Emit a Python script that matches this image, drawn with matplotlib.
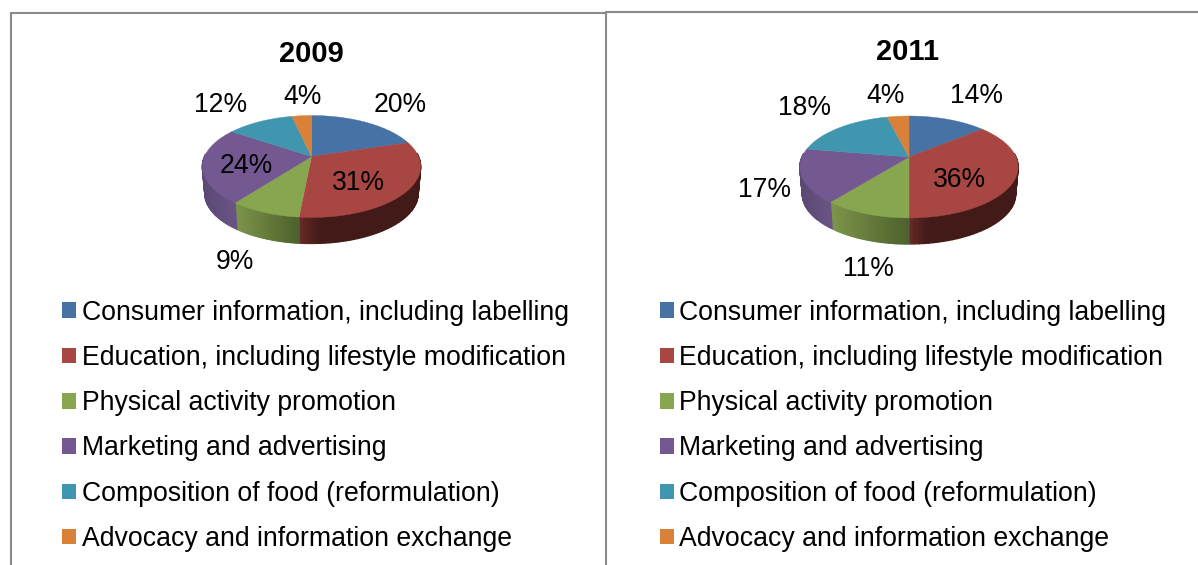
import numpy as np
import matplotlib
matplotlib.use("Agg")
import matplotlib.pyplot as plt
from matplotlib.patches import Patch

plt.rcParams['font.family'] = ['Liberation Sans', 'DejaVu Sans']

categories = ["Consumer information, including labelling",
              "Education, including lifestyle modification",
              "Physical activity promotion",
              "Marketing and advertising",
              "Composition of food (reformulation)",
              "Advocacy and information exchange"]
titles = ["2009", "2011"]
values_2009 = [20.2, 31.3, 8.8, 24.2, 12.0, 3.5]
values_2011 = [14.0, 36.0, 10.7, 17.0, 18.4, 3.9]
top_colors = ["#4672A6", "#A84643", "#88A54F", "#735891", "#4096AE", "#DA8139"]
side_left = [(60, 90, 130), (110, 44, 42), (125, 150, 75), (90, 72, 115), (50, 120, 140), (170, 100, 45)]
side_right = [(45, 70, 105), (66, 27, 24), (78, 98, 45), (105, 84, 132), (40, 100, 120), (140, 85, 40)]
side_rate = [1, 5, 1, 1, 1, 1]

# label text positions in pixels, one list per pie, in category order
label_xy_2009 = [(400, 105), (358, 183), (235, 262), (246, 166), (221, 105), (303, 97)]
label_xy_2011 = [(976, 96), (960, 180), (868, 269), (765, 190), (805, 108), (886, 96)]

W, H = 1198, 565
fig = plt.figure(figsize=(W / 100, H / 100), dpi=100)
ax = fig.add_axes([0, 0, 1, 1])
ax.set_xlim(0, W)
ax.set_ylim(H, 0)
ax.axis("off")

R, HH, K = 107.0, 49.0, 0.196
SCALE, DROP = 0.977, 27.4


def ring(theta, cx, cy, lower=False):
    u, v = np.cos(theta), np.sin(theta)
    d = 1 + K * v
    x, y = R * u / d, -HH * v / d
    if lower:
        x, y = x * SCALE, y * SCALE + DROP
    return cx + x, cy + y


def draw_pie(values, cx, cy):
    fr = np.cumsum([0] + list(values)) / float(sum(values))
    angles = np.pi / 2 - 2 * np.pi * fr
    # side wall
    for i in range(len(values)):
        th = np.linspace(angles[i], angles[i + 1], 60)
        keep = np.sin(th) < 0.08
        th = th[keep]
        if len(th) < 2:
            continue
        c0, c1 = np.array(side_left[i]) / 255, np.array(side_right[i]) / 255
        xs = ring(th, cx, cy)[0]
        for j in range(len(th) - 2, -1, -1):
            x0, y0 = ring(th[j:j + 2], cx, cy)
            x1, y1 = ring(th[j:j + 2], cx, cy, lower=True)
            span = max(xs.max() - xs.min(), 1)
            t = min(1.0, (xs[j] - xs.min()) / span * side_rate[i])
            col = c0 + (c1 - c0) * t
            ax.fill(np.r_[x0, x1[::-1]], np.r_[y0, y1[::-1]], color=col, lw=1.0, zorder=2)
    # top surface
    for i, col in enumerate(top_colors):
        th = np.linspace(angles[i], angles[i + 1], 120)
        x, y = ring(th, cx, cy)
        ax.fill(np.r_[cx, x], np.r_[cy, y], color=col, lw=0.3, zorder=3)


draw_pie(values_2009, 311.5, 156.5)
draw_pie(values_2011, 909, 157)

for values, positions in ((values_2009, label_xy_2009), (values_2011, label_xy_2011)):
    for xy, val in zip(positions, values):
        ax.text(xy[0], xy[1], f"{val:.0f}%", ha="center", va="center", fontsize=19.1, color="black", zorder=5)

ax.text(311, 54, titles[0], ha="center", va="center", fontsize=21, fontweight="bold")
ax.text(907.5, 52, titles[1], ha="center", va="center", fontsize=21, fontweight="bold")

# panel frame
frame = "#8A8A8A"
ax.plot([10.5, 10.5, 605.5], [H, 13, 13], color=frame, lw=1.5, solid_joinstyle="miter", zorder=1)
ax.plot([605.5, 605.5, W], [H, 11.5, 11.5], color=frame, lw=1.5, solid_joinstyle="miter", zorder=1)

handles = [Patch(facecolor=c, edgecolor="none") for c in top_colors]
for n, anchor in enumerate((62, 659.5)):
    leg = ax.legend(handles, categories, loc="upper left", bbox_to_anchor=(anchor, 299.5),
                    bbox_transform=ax.transData, frameon=False, fontsize=19.13,
                    handlelength=0.53, handleheight=0.53, handletextpad=0.22,
                    labelspacing=0.727, borderpad=0, borderaxespad=0)
    if n == 0:
        ax.add_artist(leg)

fig.savefig("out.png", dpi=100)
